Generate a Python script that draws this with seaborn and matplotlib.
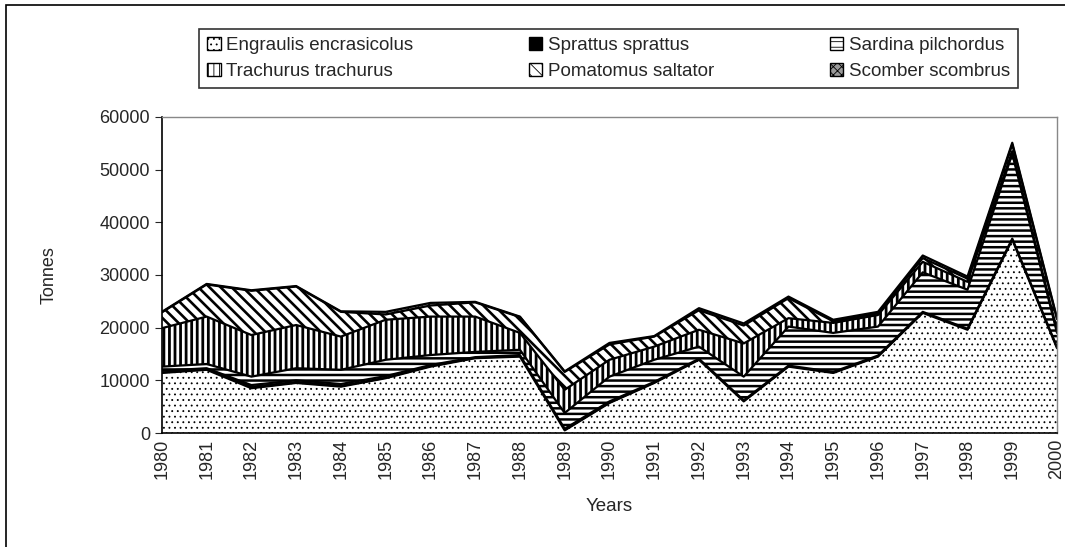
import numpy as np
import matplotlib
matplotlib.use("Agg")
import matplotlib.pyplot as plt
import seaborn as sns
from matplotlib.patches import Rectangle, Patch

# data (tonnes per species, stacked)
years = list(range(1980, 2001))
engraulis = [11400, 12000, 8500, 9500, 8800, 10400, 12600, 14200, 14500, 500, 5700,
             9500, 13900, 6000, 12600, 11400, 14500, 22800, 19600, 36700, 16100]
sprattus = [400, 300, 600, 500, 500, 400, 300, 200, 300, 300, 300,
            200, 200, 200, 200, 200, 200, 200, 200, 200, 200]
sardina = [800, 800, 1600, 2300, 2700, 3100, 1900, 1000, 1000, 3000, 4700,
           4200, 2300, 4500, 7400, 7400, 5500, 7500, 7400, 16100, 2700]
trachurus = [7300, 9000, 7900, 8200, 6300, 7600, 7300, 6700, 3200, 4400, 3200,
             2500, 3200, 6300, 1600, 1900, 2200, 2000, 1500, 500, 500]
pomatomus = [3000, 6100, 8400, 7300, 4700, 1000, 2100, 2700, 3000, 3400, 2900,
             1900, 3700, 3400, 3800, 300, 300, 700, 600, 1300, 2100]
scomber = [100, 100, 100, 100, 100, 500, 500, 100, 100, 100, 300,
           100, 400, 400, 300, 300, 300, 500, 400, 300, 200]

names = ["Engraulis encrasicolus", "Sprattus sprattus", "Sardina pilchordus",
         "Trachurus trachurus", "Pomatomus saltator", "Scomber scombrus"]
series = [engraulis, sprattus, sardina, trachurus, pomatomus, scomber]
hatches = ["...", None, "---", "|||", "\\\\\\", "xxxx"]
facecols = ["white", "black", "white", "white", "white", "#9a9a9a"]
hatch_lw = [0.6, 1.0, 1.8, 2.0, 1.9, 0.6]

sns.set_style("white")
plt.rcParams["font.family"] = ["Liberation Sans Narrow", "Liberation Sans", "DejaVu Sans"]
plt.rcParams["hatch.color"] = "black"

fig = plt.figure(figsize=(10.65, 5.47), dpi=100)
ax = fig.add_axes([0.152, 0.2084, 0.8405, 0.5778])

bottom = np.zeros(len(years))
handles = []
for name, vals, h, fc, hl in zip(names, series, hatches, facecols, hatch_lw):
    top = bottom + np.array(vals)
    plt.rcParams["hatch.linewidth"] = hl
    poly = ax.fill_between(years, bottom, top, facecolor=fc, edgecolor="black",
                           hatch=h, linewidth=0)
    if hasattr(poly, "set_hatch_linewidth"):
        poly.set_hatch_linewidth(hl)
    sns.lineplot(x=years, y=top, ax=ax, color="black", linewidth=1.6, legend=False)
    p = Patch(facecolor=fc, edgecolor="black", hatch=h, label=name)
    if hasattr(p, "set_hatch_linewidth"):
        p.set_hatch_linewidth(min(hl, 1.4))
    handles.append(p)
    bottom = top

ax.set_xlim(1980, 2000)
ax.set_ylim(0, 60000)
ax.set_yticks(range(0, 60001, 10000))
ax.set_xticks(years)
ax.set_xticklabels([str(y) for y in years], rotation=90, fontsize=13)
ax.set_xticks(np.arange(1980, 2000.01, 0.2), minor=True)
ax.tick_params(axis="y", labelsize=13, direction="out", length=5, left=True)
ax.tick_params(axis="x", which="major", direction="in", length=6, bottom=True, pad=4)
ax.tick_params(axis="x", which="minor", direction="in", length=3, bottom=True)
ax.set_xlabel("Years", fontsize=13.5, labelpad=14)
ax.set_ylabel("Tonnes", fontsize=13, labelpad=30)

for s in ["left", "bottom"]:
    ax.spines[s].set_color("black")
    ax.spines[s].set_linewidth(1.2)
for s in ["top", "right"]:
    ax.spines[s].set_color("#888888")
    ax.spines[s].set_linewidth(1)

# legend filled row by row like the original
order = [0, 3, 1, 4, 2, 5]
leg = fig.legend(handles=[handles[i] for i in order], ncol=3, loc="upper left",
                 bbox_to_anchor=(0.178, 0.855, 0.787, 0.11), mode="expand",
                 frameon=True, fontsize=13.5,
                 handlelength=0.7, handleheight=0.7, handletextpad=0.3,
                 borderpad=0.45, labelspacing=0.45,
                 fancybox=False, edgecolor="black")
leg.get_frame().set_linewidth(1.2)

# outer chart border
fig.patches.append(Rectangle((0.006, -0.05), 1.2, 1.04, transform=fig.transFigure,
                             fill=False, edgecolor="black", linewidth=1.2))

fig.savefig("out.png", dpi=100)
